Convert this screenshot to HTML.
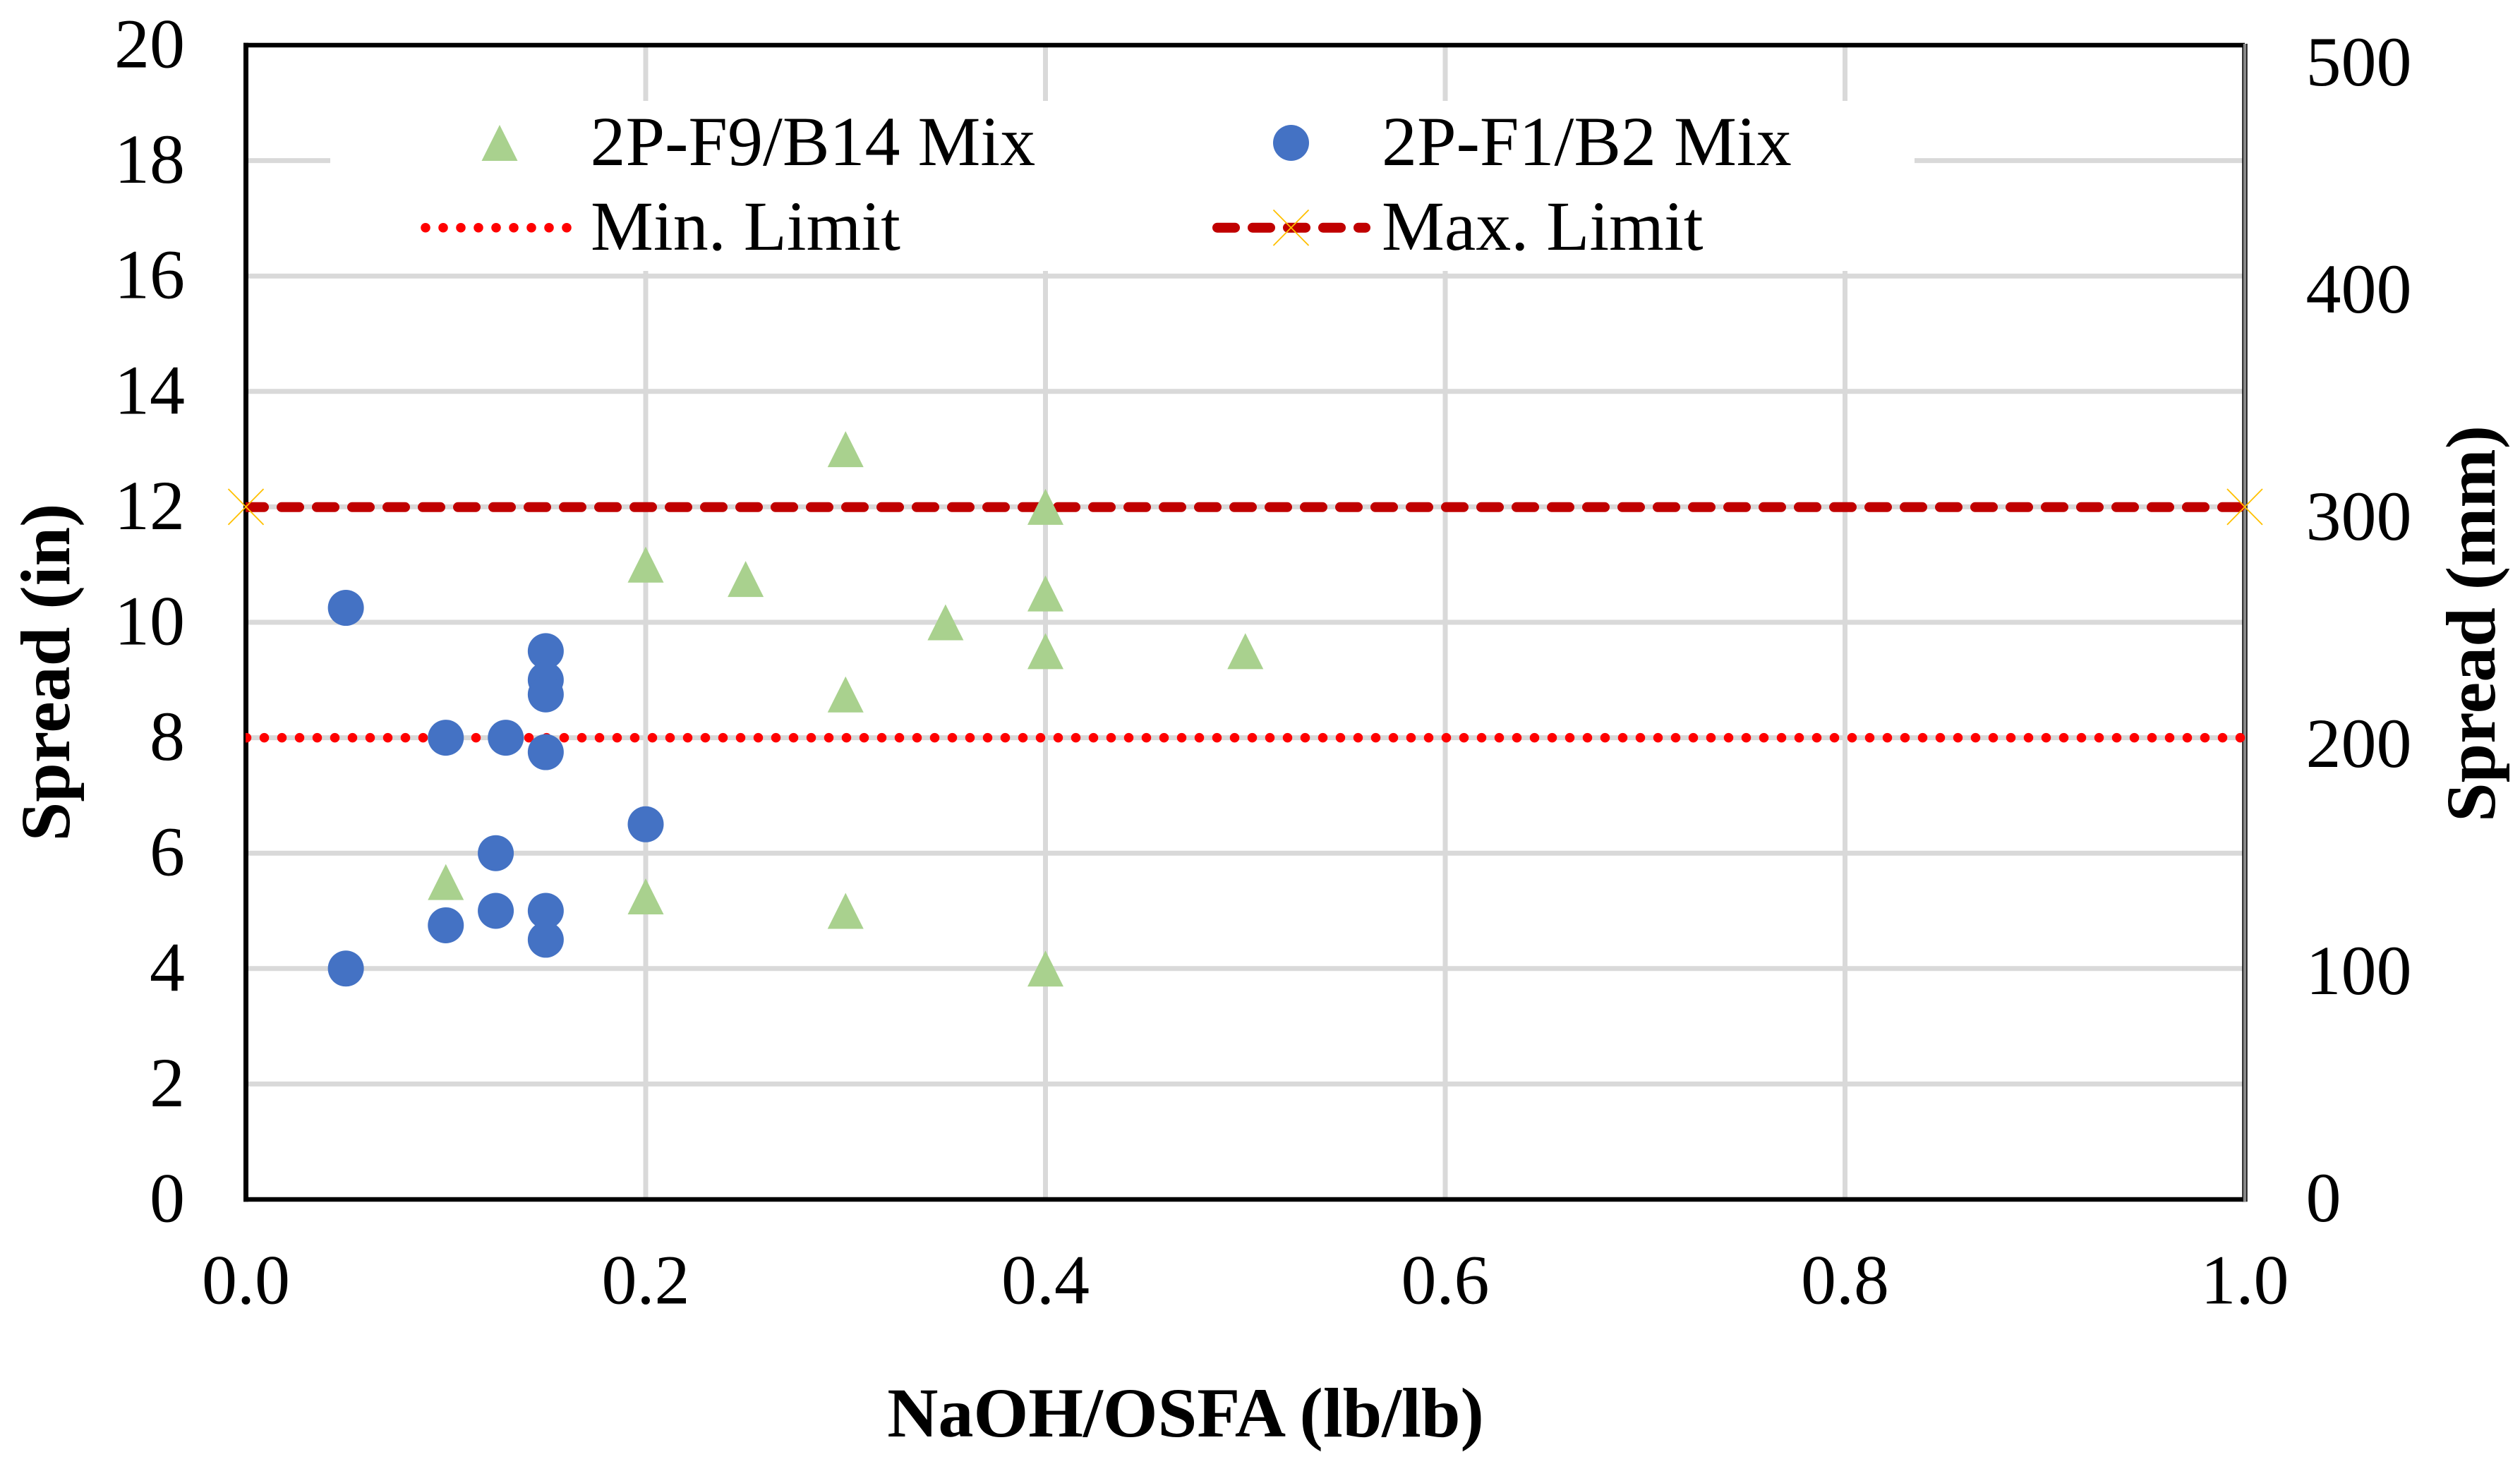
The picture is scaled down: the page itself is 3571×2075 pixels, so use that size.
<!DOCTYPE html>
<html lang="en">
<head>
<meta charset="utf-8">
<title>Spread vs NaOH/OSFA</title>
<style>
html,body{margin:0;padding:0;background:#fff;}
svg{display:block;}
text{font-family:"Liberation Serif",serif;font-size:100px;fill:#000;}
.b{font-weight:bold;}
</style>
</head>
<body>
<svg id="chart" xmlns="http://www.w3.org/2000/svg" width="3571" height="2075" viewBox="0 0 3571 2075">
  <defs>
    <clipPath id="plot-clip"><rect x="348" y="0" width="2834" height="2075"/></clipPath>
  </defs>
  <rect x="0" y="0" width="3571" height="2075" fill="#fff"/>
  <g id="grid"></g>
  <rect x="468" y="143" width="2245" height="241" fill="#fff"/>
  <g id="axes"></g>
  <g id="ticks"></g>
  <g id="limits"></g>
  <g id="marks"></g>

  <g>
    <g>
      <polygon points="708,177 733.5,228 682.5,228" fill="#a9d18e"/>
      <text x="836.5" y="234">2P-F9/B14 Mix</text>
    </g>
    <g>
      <circle cx="1829.5" cy="202.5" r="25.5" fill="#4472c4"/>
      <text x="1958" y="234">2P-F1/B2 Mix</text>
    </g>
    <g>
      <line x1="603" y1="322.7" x2="804" y2="322.7" stroke="#ff0000" stroke-width="13.5" stroke-linecap="round" stroke-dasharray="0 25"/>
      <text x="837" y="354">Min. Limit</text>
    </g>
    <g>
      <line x1="1725" y1="322.7" x2="1935" y2="322.7" stroke="#c00000" stroke-width="14" stroke-linecap="round" stroke-dasharray="25 25"/>
      <path d="M1804.5 297.5L1854.5 348M1854.5 297.5L1804.5 348" stroke="#ffc000" stroke-width="1.8" fill="none"/>
      <text x="1958" y="354">Max. Limit</text>
    </g>
  </g>

  <text class="b" text-anchor="middle" transform="translate(98 953) rotate(-90)">Spread (in)</text>
  <text class="b" text-anchor="middle" transform="translate(3535 884) rotate(-90)">Spread (mm)</text>
  <text class="b" text-anchor="middle" x="1680" y="2036">NaOH/OSFA (lb/lb)</text>
</svg>

<script>
const xTicks = [0, 0.2, 0.4, 0.6, 0.8, 1.0];
const xTickLabels = ["0.0", "0.2", "0.4", "0.6", "0.8", "1.0"];
const yTicks = [0, 2, 4, 6, 8, 10, 12, 14, 16, 18, 20];
const yTickLabels = ["0", "2", "4", "6", "8", "10", "12", "14", "16", "18", "20"];
const y2Ticks = [0, 100, 200, 300, 400, 500];
const y2TickLabels = ["0", "100", "200", "300", "400", "500"];

const f9b14X = [0.1, 0.2, 0.3, 0.4, 0.2, 0.25, 0.3, 0.3, 0.35, 0.4, 0.4, 0.4, 0.5];
const f9b14Y = [5.5, 5.25, 5, 4, 11, 10.75, 13, 8.75, 10, 12, 10.5, 9.5, 9.5];
const f1b2X = [0.05, 0.05, 0.1, 0.1, 0.125, 0.125, 0.13, 0.15, 0.15, 0.15, 0.15, 0.15, 0.15, 0.2];
const f1b2Y = [10.25, 4, 8, 4.75, 6, 5, 8, 9.5, 9, 8.75, 7.75, 5, 4.5, 6.5];
const minLimit = [8, 8];
const maxLimit = [12, 12];
const limitX = [0, 1];

const NS = "http://www.w3.org/2000/svg";
const X0 = 348.5, X1 = 3181, Y0 = 1700, Y1 = 64;
const sx = v => X0 + (X1 - X0) * v / 1;
const sy = v => Y0 + (Y1 - Y0) * v / 20;
const sy2 = v => sy(v / 25.4);

function el(tag, parent, attrs) {
  const e = document.createElementNS(NS, tag);
  for (const k in attrs) e.setAttribute(k, attrs[k]);
  parent.appendChild(e);
  return e;
}

const grid = document.getElementById("grid");
const axes = document.getElementById("axes");
const ticks = document.getElementById("ticks");
const limits = document.getElementById("limits");
const marks = document.getElementById("marks");

xTicks.forEach((v, i) => {
  if (v > 0 && v < 1) {
    const g = el("line", grid, {x1: sx(v), x2: sx(v), y1: Y1, y2: Y0, stroke: "#d9d9d9", "stroke-width": 7});
    
    
  }
  const t = el("text", ticks, {x: sx(v), y: 1847.5, "text-anchor": "middle"});
  t.textContent = xTickLabels[i];
  
  
});

yTicks.forEach((v, i) => {
  if (v > 0 && v < 20) {
    const g = el("line", grid, {x1: X0, x2: X1, y1: sy(v), y2: sy(v), stroke: "#d9d9d9", "stroke-width": 7});
    
    
  }
  const t = el("text", ticks, {x: 262, y: sy(v) + 31.5, "text-anchor": "end"});
  t.textContent = yTickLabels[i];
  
  
});

y2Ticks.forEach((v, i) => {
  const t = el("text", ticks, {x: 3267.5, y: sy2(v) + 31});
  t.textContent = y2TickLabels[i];
  
  
});

const axisTop = el("line", axes, {x1: X0 - 3.5, x2: X1, y1: Y1, y2: Y1, stroke: "#000", "stroke-width": 6.5});


const axisBottom = el("line", axes, {x1: X0 - 3.5, x2: X1, y1: Y0, y2: Y0, stroke: "#000", "stroke-width": 6.5});


const axisLeft = el("line", axes, {x1: X0, x2: X0, y1: Y1 - 3.2, y2: Y0 + 3.2, stroke: "#000", "stroke-width": 7});


const axisRight = el("line", axes, {x1: X1, x2: X1, y1: Y1 - 2, y2: Y0 + 3.2, stroke: "#000", "stroke-width": 7.4});


const axisRightCore = el("line", axes, {x1: X1, x2: X1, y1: Y1 - 2, y2: Y0 + 3.2, stroke: "#888888", "stroke-width": 4.4});



const minLine = el("line", limits, {x1: sx(limitX[0]) + 1, y1: sy(minLimit[0]), x2: sx(limitX[1]), y2: sy(minLimit[1]), stroke: "#ff0000", "stroke-width": 13.5, "stroke-linecap": "round", "stroke-dasharray": "0 25", "clip-path": "url(#plot-clip)"});



const maxLine = el("line", limits, {x1: sx(limitX[0]) + 0.5, y1: sy(maxLimit[0]) + 0.4, x2: sx(limitX[1]), y2: sy(maxLimit[1]) + 0.4, stroke: "#c00000", "stroke-width": 14, "stroke-linecap": "round", "stroke-dasharray": "25 25", "clip-path": "url(#plot-clip)"});



limitX.forEach((v, i) => {
  const cx = sx(v), cy = sy(maxLimit[i]);
  const m = el("path", limits, {d: `M${cx-25} ${cy-25.4}L${cx+25} ${cy+25.4}M${cx+25} ${cy-25.4}L${cx-25} ${cy+25.4}`, stroke: "#ffc000", "stroke-width": 1.8, fill: "none"});
  
  
});

f9b14X.forEach((v, i) => {
  const cx = sx(v), cy = sy(f9b14Y[i]);
  const p = el("polygon", marks, {points: `${cx},${cy-25.5} ${cx+25.5},${cy+25.5} ${cx-25.5},${cy+25.5}`, fill: "#a9d18e"});
  
  
});

f1b2X.forEach((v, i) => {
  const c = el("circle", marks, {cx: sx(v), cy: sy(f1b2Y[i]), r: 25.5, fill: "#4472c4"});
  
  
});
</script>
</body>
</html>
